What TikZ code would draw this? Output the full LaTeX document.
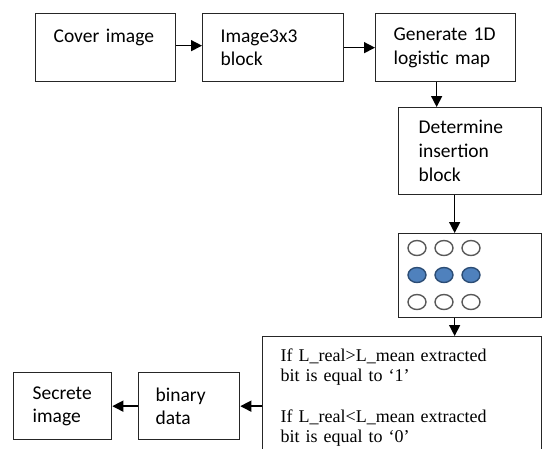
\documentclass[tikz,border=0pt]{standalone}
\usepackage{fontspec}
\setmainfont{Carlito}
\newfontfamily\serifrm{Liberation Serif}
\usetikzlibrary{arrows.meta}
\usetikzlibrary{positioning}
\definecolor{cellblue}{HTML}{4F81BD}
\definecolor{cellrim}{HTML}{2C4D75}
\tikzset{
    >={Triangle[length=11pt,width=11pt]},
    frame/.style={draw=black!85, line width=1.3pt, anchor=north west, inner sep=0pt},
    block/.style={frame, inner xsep=18pt, align=left,
        font=\fontsize{19.5}{23.5}\selectfont},
    flow/.style={->, draw=black, line width=1.4pt},
    pixoff/.style={draw=black!65, fill=white, line width=1.4pt},
    pixon/.style={draw=cellrim, fill=cellblue, line width=1.4pt},
}

\begin{document}
\begin{tikzpicture}[x=1pt, y=-1pt]
\useasboundingbox (0,0) rectangle (543,448);
\clip (0,0) rectangle (543,448);
% top row
\node[block, text width=104pt, minimum height=68pt] (cover) at (35,13) {Cover image\\\mbox{}};
\node[block, text width=105pt, minimum height=68pt] (blockimg) at (202,13) {Image3x3\\block};
\node[block, text width=104pt, minimum height=68pt] (logmap) at (375,13) {Generate 1D\\logistic map};
% right column
\node[block, inner xsep=20pt, text width=103pt, minimum height=87pt,
    font=\fontsize{19.5}{24}\selectfont] (insert) at (398,107) {Determine\\insertion\\block};
\node[frame, minimum width=143pt, minimum height=84pt] (pixels) at (398,233) {};
\draw[pixoff] (417,248) ellipse (9pt and 7.5pt);
\draw[pixoff] (444,248) ellipse (9pt and 7.5pt);
\draw[pixoff] (471,248) ellipse (9pt and 7.5pt);
\draw[pixon] (417,275) ellipse (9pt and 7.5pt);
\draw[pixon] (444,275) ellipse (9pt and 7.5pt);
\draw[pixon] (471,275) ellipse (9pt and 7.5pt);
\draw[pixoff] (417,302) ellipse (9pt and 7.5pt);
\draw[pixoff] (444,302) ellipse (9pt and 7.5pt);
\draw[pixoff] (471,302) ellipse (9pt and 7.5pt);
% bottom row
\node[block, text width=243pt, minimum height=122pt,
    font=\serifrm\fontsize{18}{20.25}\selectfont] (extract) at (262,336)
    {If L\_real>L\_mean extracted\\bit is equal to ‘1’\\[20.25pt]If L\_real<L\_mean extracted\\bit is equal to ‘0’};
\node[block, inner xsep=17pt, text width=67pt, minimum height=67pt] (bindata) at (138,372) {binary\\data};
\node[block, inner xsep=19pt, text width=60pt, minimum height=67pt] (secret) at (13,372) {Secrete\\image};
% arrows
\draw[flow] ([yshift=2pt]cover.east) -- ([yshift=2pt]cover.east -| blockimg.west);
\draw[flow] (blockimg.east) -- (logmap.west);
\draw[flow] ([xshift=-9pt]logmap.south) -- ([xshift=-9pt]logmap.south |- insert.north);
\draw[flow] ([xshift=-15.5pt]insert.south) -- ([xshift=-15.5pt]insert.south |- pixels.north);
\draw[flow] ([xshift=-15.5pt]pixels.south) -- ([xshift=-15.5pt]pixels.south |- extract.north);
\draw[flow] (extract.west |- bindata.east) -- (bindata.east);
\draw[flow] (bindata.west) -- (secret.east);
\end{tikzpicture}
\end{document}
